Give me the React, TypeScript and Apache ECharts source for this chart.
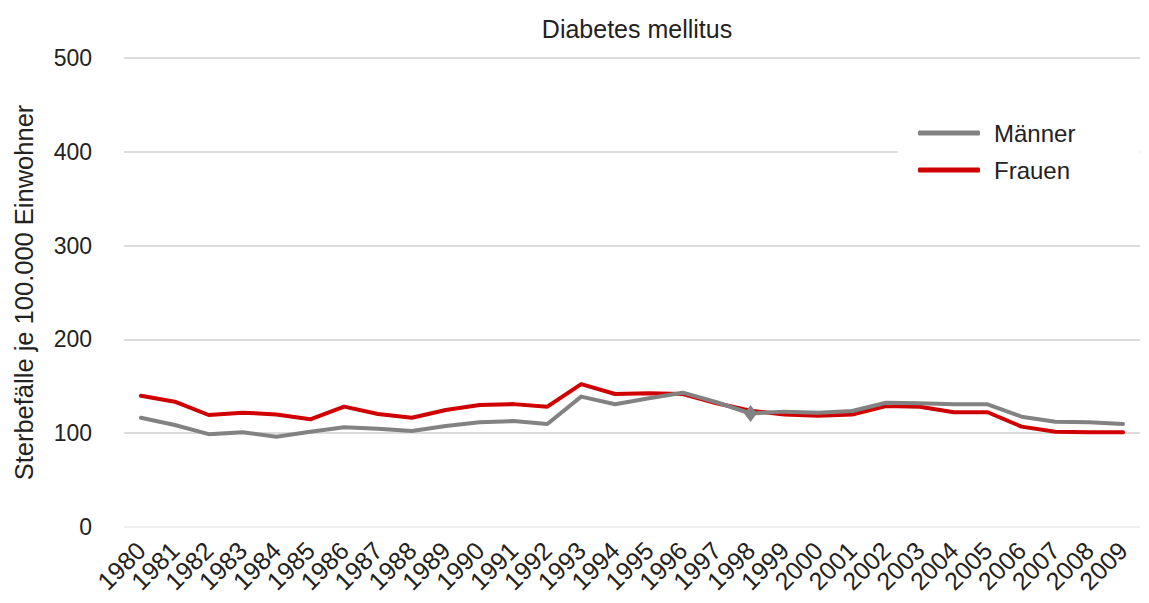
import React, { useEffect, useRef } from "react";
import * as echarts from "echarts";

const years = [
  "1980", "1981", "1982", "1983", "1984", "1985", "1986", "1987", "1988", "1989",
  "1990", "1991", "1992", "1993", "1994", "1995", "1996", "1997", "1998", "1999",
  "2000", "2001", "2002", "2003", "2004", "2005", "2006", "2007", "2008", "2009",
];

const maenner = [
  116.5, 108.7, 99, 101, 96.3, 101.6, 106.3, 104.8, 102.3, 107.7,
  111.6, 113, 109.8, 139, 130.8, 137.2, 143.2, 133, 121, 123,
  121.9, 123.7, 132.5, 131.9, 130.8, 130.8, 117.6, 112.3, 111.6, 109.8,
];

const frauen = [
  140, 133.6, 119.4, 121.9, 120, 114.8, 128.3, 120.5, 116.5, 124.7,
  130, 131, 128.3, 152.4, 141.8, 142.5, 141.8, 131.9, 124, 120,
  118.7, 120, 129, 128.3, 122.3, 122.3, 107, 101.6, 101, 101,
];

const yTicks = [0, 100, 200, 300, 400, 500];
const markerYear = "1998";

const FONT = "'Liberation Sans', Arial, sans-serif";

export default function App() {
  const ref = useRef<HTMLDivElement>(null);
  useEffect(() => {
    if (!ref.current) return;
    const chart = echarts.init(ref.current, null, { renderer: "svg" });
    const maennerData = maenner.map((v, i) =>
      years[i] === markerYear
        ? { value: v, symbol: "diamond", symbolSize: [13, 17] }
        : { value: v }
    );
    chart.setOption({
      animation: false,
      backgroundColor: "#ffffff",
      textStyle: { fontFamily: FONT },
      title: {
        text: "Diabetes mellitus",
        left: 632,
        textAlign: "center",
        top: 11,
        textStyle: { fontFamily: FONT, fontSize: 25, fontWeight: "normal", color: "#222222" },
      },
      legend: {
        data: [
          { name: "Männer", icon: "roundRect" },
          { name: "Frauen", icon: "roundRect" },
        ],
        orient: "vertical",
        left: 898,
        top: 113,
        padding: [8, 64, 8, 20],
        backgroundColor: "#ffffff",
        itemWidth: 62,
        itemHeight: 5,
        itemGap: 13,
        textStyle: { fontFamily: FONT, fontSize: 24, color: "#222222", padding: [0, 0, 0, 9] },
      },
      grid: { left: 124, right: 9, top: 58, bottom: 76 },
      xAxis: {
        type: "category",
        data: years,
        boundaryGap: true,
        axisLine: { show: false },
        axisTick: { show: false },
        axisLabel: {
          rotate: 45,
          interval: 0,
          margin: 19,
          fontFamily: FONT,
          fontSize: 25,
          color: "#222222",
        },
      },
      yAxis: {
        type: "value",
        min: yTicks[0],
        max: yTicks[yTicks.length - 1],
        interval: 100,
        name: "Sterbefälle je 100.000 Einwohner",
        nameLocation: "middle",
        nameGap: 87,
        nameTextStyle: { fontFamily: FONT, fontSize: 25.5, color: "#222222" },
        axisLine: { show: false },
        axisTick: { show: false },
        axisLabel: { margin: 32, fontFamily: FONT, fontSize: 23, color: "#222222" },
        splitLine: {
          lineStyle: {
            color: ["#efefef", "#dcdcdc", "#dcdcdc", "#dcdcdc", "#dcdcdc", "#dcdcdc"],
            width: 2,
          },
        },
      },
      series: [
        {
          name: "Frauen",
          type: "line",
          data: frauen,
          symbol: "none",
          lineStyle: { color: "#d00000", width: 4, cap: "round", join: "round" },
          itemStyle: { color: "#d00000" },
          z: 2,
        },
        {
          name: "Männer",
          type: "line",
          data: maennerData,
          symbol: "none",
          showSymbol: true,
          lineStyle: { color: "#828282", width: 4, cap: "round", join: "round" },
          itemStyle: { color: "#828282" },
          z: 3,
        },
      ],
    });
    return () => chart.dispose();
  }, []);
  return (
    <div
      ref={ref}
      style={{ position: "fixed", left: 0, top: 0, width: 1149, height: 603 }}
    />
  );
}
